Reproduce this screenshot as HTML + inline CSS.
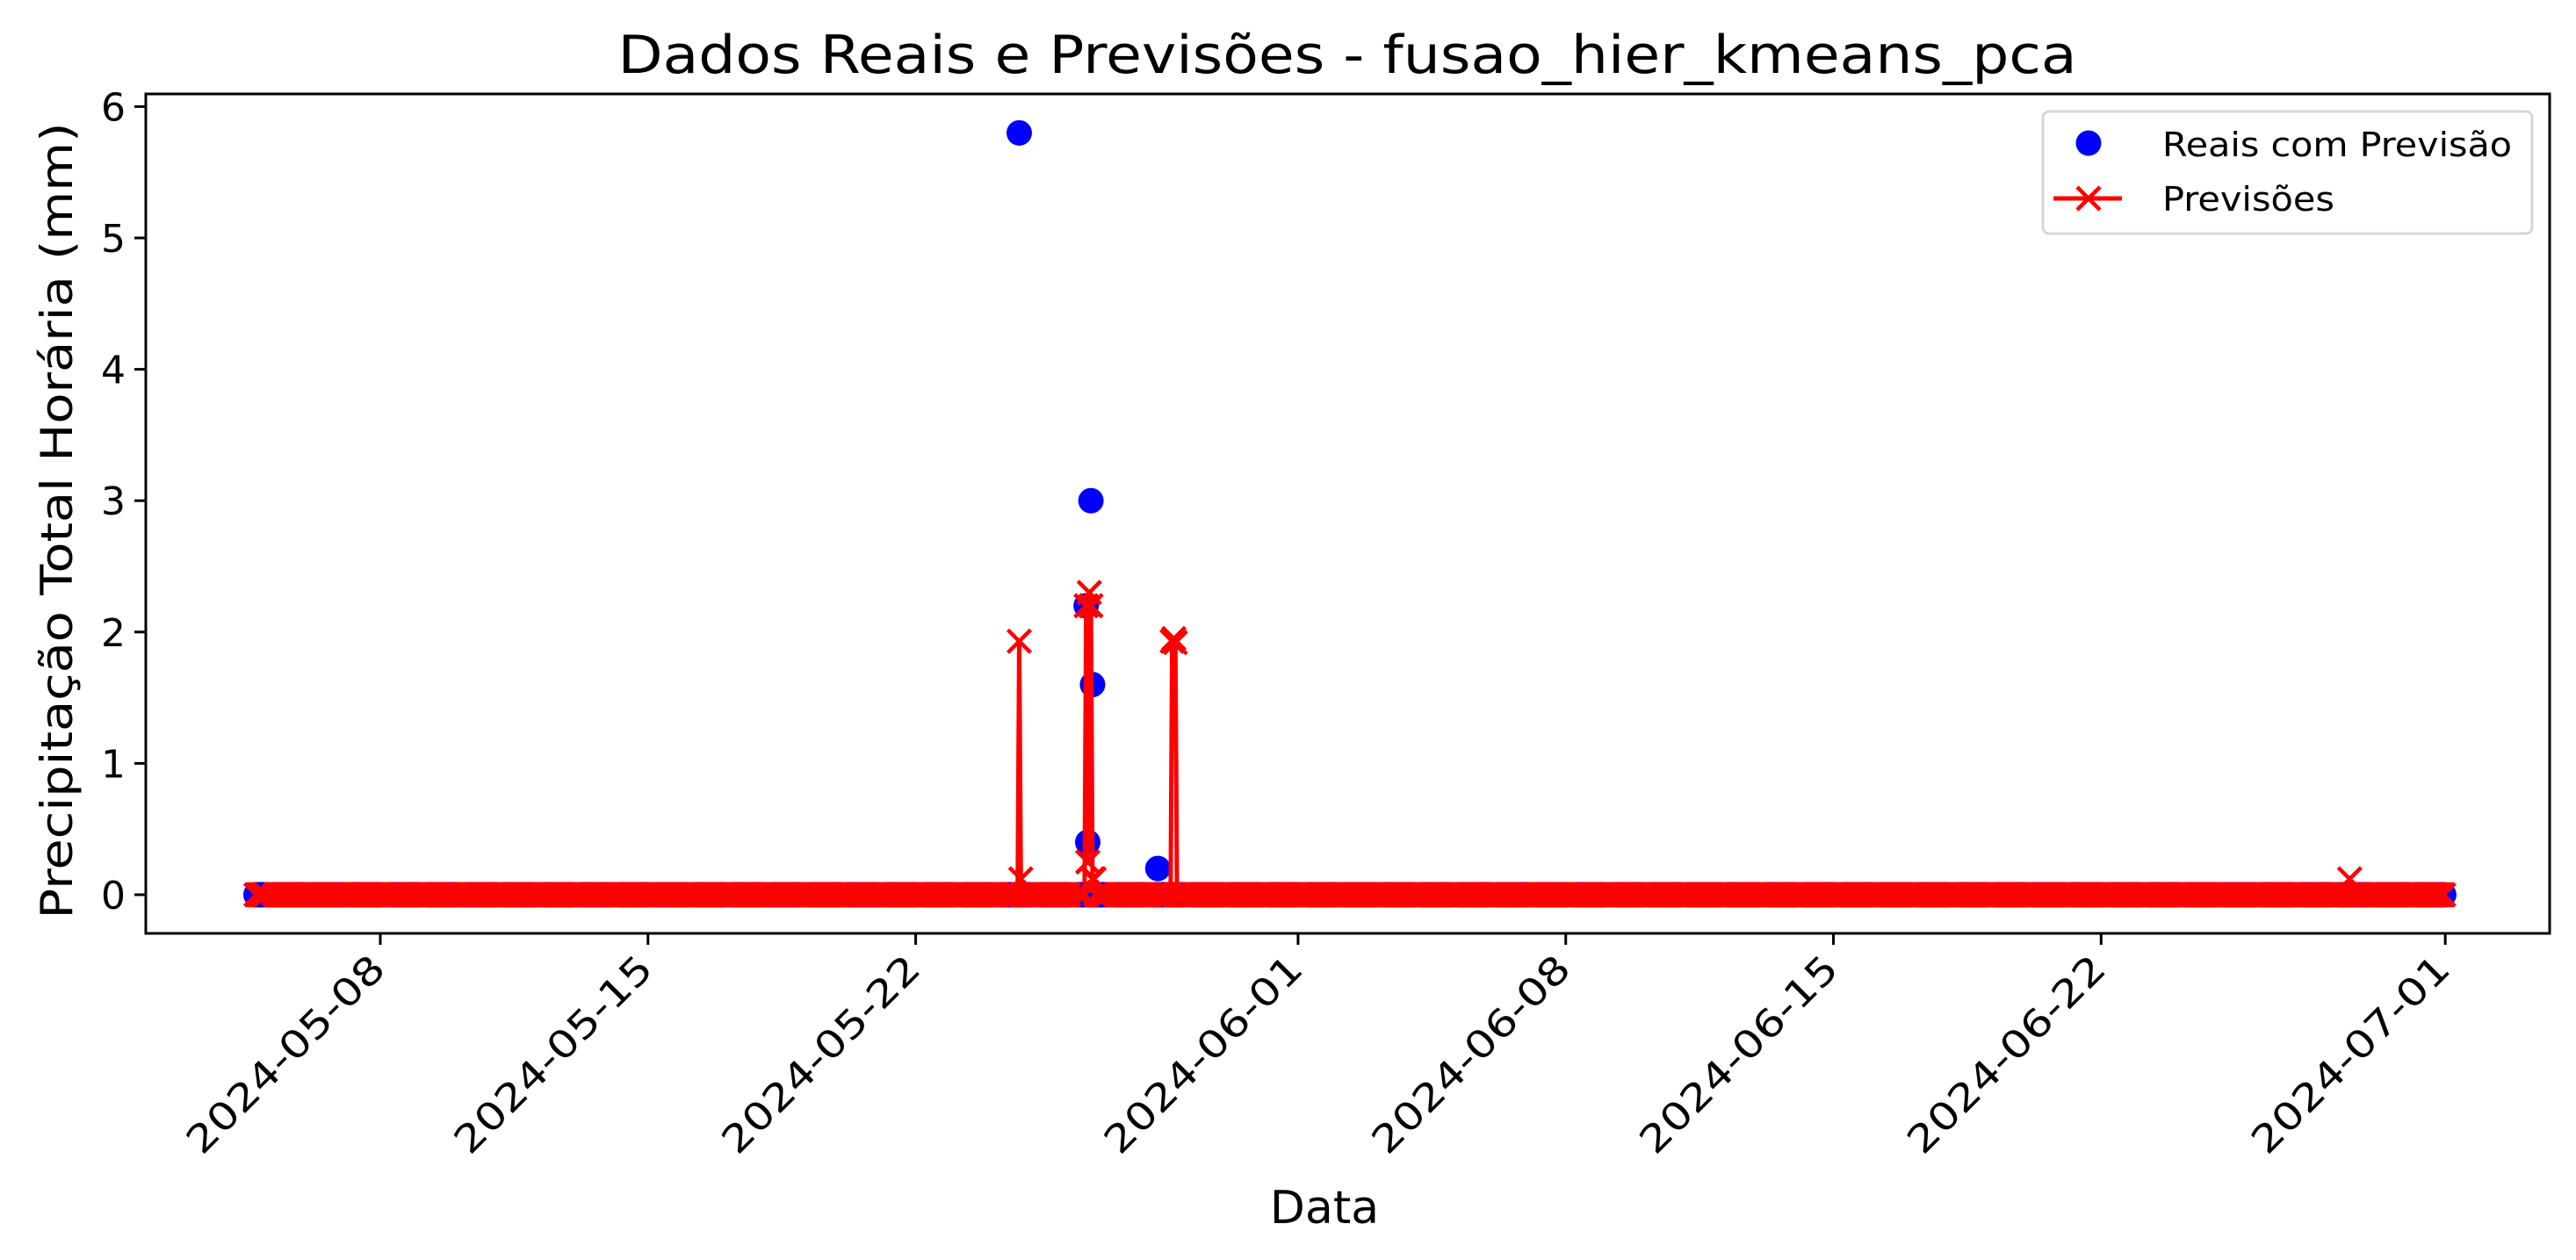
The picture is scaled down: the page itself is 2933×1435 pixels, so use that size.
<!DOCTYPE html>
<html><head><meta charset="utf-8"><style>
html,body{margin:0;padding:0;background:#fff;}
svg{display:block;font-family:"DejaVu Sans","Liberation Sans",sans-serif;}
</style></head>
<body>
<svg id="chart" width="2933" height="1435" viewBox="0 0 2933 1435" xmlns="http://www.w3.org/2000/svg">
<rect x="0" y="0" width="2933" height="1435" fill="#fff"/>
<text x="1534" y="83" font-size="60" text-anchor="middle" textLength="1661" lengthAdjust="spacingAndGlyphs">Dados Reais e Previsões - fusao_hier_kmeans_pca</text>
<text x="1508" y="1393" font-size="52" text-anchor="middle">Data</text>
<text transform="translate(82,593) rotate(-90)" font-size="50" text-anchor="middle" textLength="907" lengthAdjust="spacingAndGlyphs">Precipitação Total Horária (mm)</text>
<g id="plot"></g>
<rect x="166" y="107" width="2737" height="956" fill="none" stroke="#000" stroke-width="3"/>
<g id="xticks"></g>
<g id="yticks"></g>
<g>
<rect x="2326" y="127" width="557" height="139" rx="7" fill="#fff" fill-opacity="0.8" stroke="#d6d6d6" stroke-width="3"/>
<circle cx="2378" cy="163" r="14.5" fill="#0000ff"/>
<text x="2462" y="178" font-size="38" textLength="398" lengthAdjust="spacingAndGlyphs">Reais com Previsão</text>
<line x1="2338" y1="226" x2="2416" y2="226" stroke="#ff0000" stroke-width="5"/>
<path d="M2365,213L2391,239M2365,239L2391,213" stroke="#ff0000" stroke-width="4.5"/>
<text x="2462" y="240" font-size="38" textLength="196" lengthAdjust="spacingAndGlyphs">Previsões</text>
</g>
</svg>
<script>
// ---- data ----
const seriesStart = "2024-05-04T18";
const seriesEnd = "2024-06-30T23";
const missingHours = [1, 2, 3, 4, 5];
const realEventTimes = ["2024-05-24T17", "2024-05-26T11", "2024-05-26T12", "2024-05-26T14", "2024-05-26T15", "2024-05-28T08"];
const realEventValues = [5.8, 2.2, 0.4, 3.0, 1.6, 0.2];
const predEventTimes = ["2024-05-24T17", "2024-05-24T18", "2024-05-26T11", "2024-05-26T12", "2024-05-26T13", "2024-05-26T14", "2024-05-26T15", "2024-05-26T16", "2024-05-28T17", "2024-05-28T18", "2024-05-28T19", "2024-06-28T12"];
const predEventValues = [1.93, 0.12, 2.2, 0.25, 2.3, 2.2, 0.12, 0.12, 1.93, 1.95, 1.92, 0.12];
const xTickLabels = ["2024-05-08", "2024-05-15", "2024-05-22", "2024-06-01", "2024-06-08", "2024-06-15", "2024-06-22", "2024-07-01"];
const yTickValues = [0, 1, 2, 3, 4, 5, 6];

// ---- axes ----
const NS = "http://www.w3.org/2000/svg";
const T0 = Date.UTC(2024, 4, 8);
function parseT(s) {
  const p = s.split("T"); const d = p[0].split("-");
  return Date.UTC(+d[0], +d[1] - 1, +d[2], p[1] ? +p[1] : 0);
}
function xScale(t) { return 433 + 43.54 * (t - T0) / 86400000; }
function yScale(v) { return 1019 - 149.6 * v; }
function mk(tag, attrs, parent) {
  const e = document.createElementNS(NS, tag);
  for (const k in attrs) e.setAttribute(k, attrs[k]);
  parent.appendChild(e); return e;
}

const times = [], real = [], pred = [];
const realMap = {}, predMap = {};
realEventTimes.forEach((t, i) => realMap[parseT(t)] = realEventValues[i]);
predEventTimes.forEach((t, i) => predMap[parseT(t)] = predEventValues[i]);
for (let t = parseT(seriesStart); t <= parseT(seriesEnd); t += 3600000) {
  const h = new Date(t).getUTCHours();
  if (missingHours.indexOf(h) >= 0) continue;
  times.push(t);
  real.push(realMap[t] !== undefined ? realMap[t] : 0);
  pred.push(predMap[t] !== undefined ? predMap[t] : 0);
}

const plot = document.getElementById("plot");
const gReal = mk("g", {fill: "#0000ff"}, plot);


times.forEach((t, i) => {
  const c = mk("circle", {cx: xScale(t).toFixed(2), cy: yScale(real[i]).toFixed(2), r: 14.5}, gReal);
  
  
});
let d = "";
times.forEach((t, i) => { d += (i ? "L" : "M") + xScale(t).toFixed(2) + "," + yScale(pred[i]).toFixed(2); });
const line = mk("path", {d: d, fill: "none", stroke: "#ff0000", "stroke-width": 5, "stroke-linejoin": "round"}, plot);


let md = "";
times.forEach((t, i) => {
  const x = xScale(t), y = yScale(pred[i]), s = 13;
  md += "M" + (x - s).toFixed(1) + "," + (y - s).toFixed(1) + "L" + (x + s).toFixed(1) + "," + (y + s).toFixed(1) +
        "M" + (x - s).toFixed(1) + "," + (y + s).toFixed(1) + "L" + (x + s).toFixed(1) + "," + (y - s).toFixed(1);
});
const mp = mk("path", {d: md, fill: "none", stroke: "#ff0000", "stroke-width": 4.5}, plot);



const gx = document.getElementById("xticks");
xTickLabels.forEach(lbl => {
  const x = xScale(parseT(lbl));
  const tk = mk("line", {x1: x, y1: 1063, x2: x, y2: 1076, stroke: "#000", "stroke-width": 3}, gx);
  
  
  const tx = mk("text", {transform: "translate(" + (x - 14) + ",1084) rotate(-45)", "font-size": 43, "text-anchor": "end", dy: "0.72em", textLength: 298, lengthAdjust: "spacingAndGlyphs"}, gx);
  tx.textContent = lbl;
  
  
});
const gy = document.getElementById("yticks");
yTickValues.forEach(v => {
  const y = yScale(v);
  const tk = mk("line", {x1: 153, y1: y, x2: 166, y2: y, stroke: "#000", "stroke-width": 3}, gy);
  
  
  const tx = mk("text", {x: 143, y: y + 16, "font-size": 44, "text-anchor": "end"}, gy);
  tx.textContent = String(v);
  
  
});
</script>
</body></html>
